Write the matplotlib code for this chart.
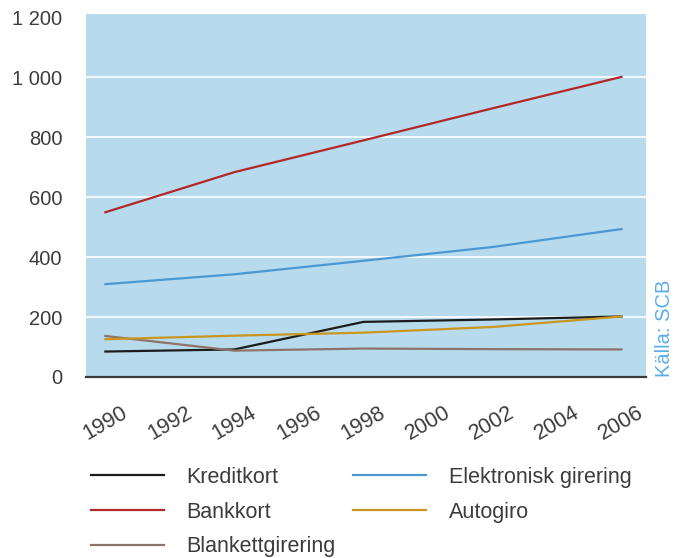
import matplotlib
matplotlib.use("Agg")
import matplotlib.pyplot as plt

# Data
years = [1990, 1994, 1998, 2002, 2006]
kreditkort = [85, 92, 184, 192, 202]
bankkort = [550, 684, 790, 897, 1002]
blankettgirering = [137, 88, 95, 93, 92]
elektronisk_girering = [310, 343, 388, 434, 494]
autogiro = [126, 138, 148, 167, 202]

year_ticks = list(range(1990, 2007, 2))
y_ticks = [0, 200, 400, 600, 800, 1000, 1200]
y_tick_labels = ["0", "200", "400", "600", "800", "1 000", "1 200"]

plt.rcParams["font.family"] = ["Liberation Sans", "DejaVu Sans"]

text_color = "#3c3c3c"


def main():
    fig = plt.figure(figsize=(6.74, 5.58), dpi=100)
    ax = fig.add_axes([86 / 674, 1 - 377 / 558, (646 - 86) / 674, (377 - 14) / 558])
    ax.set_facecolor("#b7daed")

    # Series, in legend order (column-wise)
    series = [
        ("Kreditkort", kreditkort, "#1c1c1c"),
        ("Bankkort", bankkort, "#b3272a"),
        ("Blankettgirering", blankettgirering, "#8d7369"),
        ("Elektronisk girering", elektronisk_girering, "#4b97d2"),
        ("Autogiro", autogiro, "#c9961f"),
    ]
    handles = []
    for label, values, color in series:
        (line,) = ax.plot(years, values, color=color, lw=1.6, label=label, zorder=3)
        handles.append(line)

    ax.set_xlim(1989.4, 2006.76)
    ax.set_ylim(0, 1212)

    ax.set_yticks(y_ticks)
    ax.set_yticklabels(y_tick_labels)
    ax.set_xticks(year_ticks)
    ax.set_xticklabels([str(y) for y in year_ticks], rotation=30, ha="center")

    ax.grid(axis="y", color="white", lw=1.2)
    ax.get_ygridlines()[-1].set_visible(False)
    ax.set_axisbelow(True)
    for side in ["top", "right", "left"]:
        ax.spines[side].set_visible(False)
    ax.spines["bottom"].set_color("#3a3a3a")
    ax.spines["bottom"].set_linewidth(1.6)
    ax.spines["bottom"].set_zorder(4)

    ax.tick_params(axis="y", length=0, pad=17, labelsize=14.5, labelcolor=text_color)
    ax.tick_params(axis="x", length=0, pad=18, labelsize=15.5, labelcolor=text_color)

    fig.text(665 / 674, 1 - 377 / 558, "Källa: SCB", rotation=90, ha="center",
             va="bottom", fontsize=14.5, color="#5aaee8")

    fig.legend(
        handles=handles,
        loc="upper left",
        bbox_to_anchor=(80 / 674, 1 - 456 / 558),
        ncol=2,
        frameon=False,
        fontsize=15.5,
        borderpad=0,
        handlelength=3.4,
        handletextpad=1.05,
        columnspacing=0.8,
        labelspacing=0.64,
        labelcolor=text_color,
    )

    fig.savefig("out.png", dpi=100)
    plt.close(fig)


if __name__ == "__main__":
    main()
